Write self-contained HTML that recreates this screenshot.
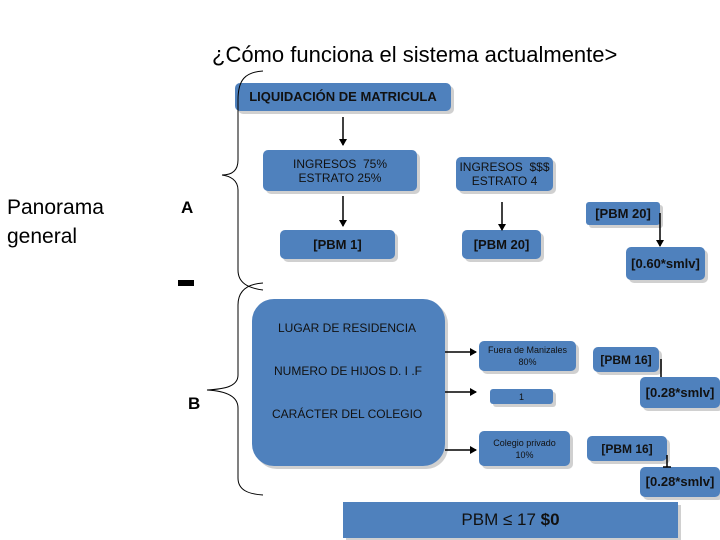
<!DOCTYPE html>
<html><head><meta charset="utf-8"><style>
body{margin:0;width:720px;height:540px;background:#fff;position:relative;overflow:hidden;font-family:"Liberation Sans",Arial,sans-serif}
.b{position:absolute;background:#4f81bd;color:#111;box-shadow:3px 3px 0 #d0d0d0;display:flex;align-items:center;justify-content:center;text-align:center;border-radius:5px;font-size:12px;line-height:14px}
.bd{font-weight:bold;font-size:13px}
.t{position:absolute;white-space:nowrap}
</style></head><body>
<div class="t" style="left:212px;top:42px;font-size:22px">¿Cómo funciona el sistema actualmente&gt;</div>
<div class="t" style="left:7px;top:193px;font-size:21px;line-height:29px">Panorama<br>general</div>
<div class="t" style="left:181px;top:198px;font-size:17px;font-weight:bold">A</div>
<div style="position:absolute;left:178px;top:280px;width:16px;height:6px;background:#000"></div>
<div class="t" style="left:188px;top:394px;font-size:17px;font-weight:bold">B</div>

<div class="b bd" style="left:235px;top:83px;width:216px;height:28px">LIQUIDACIÓN DE MATRICULA</div>
<div class="b" style="left:263px;top:150px;width:154px;height:41px;font-size:12px">INGRESOS&nbsp; 75%<br>ESTRATO 25%</div>
<div class="b" style="left:456px;top:157px;width:97px;height:34px">INGRESOS&nbsp; $$$<br>ESTRATO 4</div>
<div class="b bd" style="left:280px;top:230px;width:115px;height:29px">[PBM 1]</div>
<div class="b bd" style="left:462px;top:230px;width:79px;height:29px">[PBM 20]</div>
<div class="b bd" style="left:586px;top:202px;width:74px;height:23px;border-radius:3px">[PBM 20]</div>
<div class="b bd" style="left:626px;top:247px;width:79px;height:33px">[0.60*smlv]</div>

<div class="b" style="left:252px;top:299px;width:193px;height:167px;border-radius:22px;display:block;text-align:left">
<div class="t" style="left:26px;top:22px">LUGAR DE RESIDENCIA</div>
<div class="t" style="left:22px;top:65px">NUMERO DE HIJOS D. I .F</div>
<div class="t" style="left:20px;top:108px">CARÁCTER DEL COLEGIO</div>
</div>
<div class="b" style="left:479px;top:341px;width:97px;height:30px;font-size:9px;line-height:12px">Fuera de Manizales<br>80%</div>
<div class="b" style="left:490px;top:389px;width:63px;height:15px;font-size:9px;border-radius:3px">1</div>
<div class="b" style="left:479px;top:431px;width:91px;height:35px;font-size:9px;line-height:12px">Colegio privado<br>10%</div>
<div class="b bd" style="left:593px;top:347px;width:66px;height:25px;font-size:12px">[PBM 16]</div>
<div class="b bd" style="left:640px;top:377px;width:80px;height:31px">[0.28*smlv]</div>
<div class="b bd" style="left:587px;top:436px;width:80px;height:25px;font-size:12px">[PBM 16]</div>
<div class="b bd" style="left:640px;top:467px;width:80px;height:30px">[0.28*smlv]</div>
<div class="b" style="left:343px;top:502px;width:335px;height:36px;font-size:17px;border-radius:0">PBM ≤ 17&nbsp; <b>$0</b></div>

<svg width="720" height="540" style="position:absolute;left:0;top:0" fill="none" stroke="#000">
<defs><marker id="a" markerWidth="8" markerHeight="8" refX="6" refY="4" orient="auto" markerUnits="userSpaceOnUse"><path d="M0,0L7,4L0,8z" fill="#000" stroke="none"/></marker></defs>
<g stroke-width="1.5" marker-end="url(#a)">
<line x1="343" y1="117" x2="343" y2="145"/>
<line x1="343" y1="196" x2="343" y2="226"/>
<line x1="502" y1="202" x2="502" y2="230"/>
<line x1="660" y1="213" x2="660" y2="246"/>
<line x1="445" y1="352" x2="476" y2="352"/>
<line x1="445" y1="392" x2="476" y2="392"/>
<line x1="445" y1="450" x2="476" y2="450"/>
</g>
<line x1="661" y1="359" x2="661" y2="377" stroke-width="1.5"/>
<line x1="667" y1="455" x2="667" y2="467" stroke-width="1.5"/>
<line x1="663" y1="467" x2="671" y2="467" stroke-width="1.5"/>
<path d="M263,71 C245,72 238,80 238,100 L238,160 C238,172 230,175 222,175 C230,176 238,180 238,190 L238,270 C238,283 248,288 263,290" stroke-width="1"/>
<path d="M263,283 C248,284 238,290 238,305 L238,375 C238,386 226,389 207,390 C226,391 238,396 238,408 L238,478 C238,490 248,494 263,495" stroke-width="1"/>
</svg>
</body></html>
